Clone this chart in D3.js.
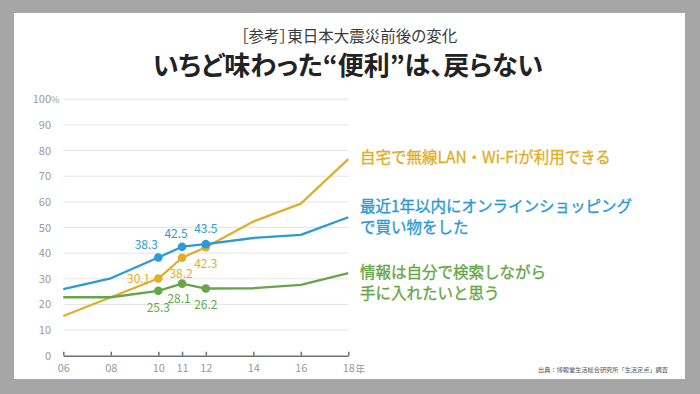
<!DOCTYPE html>
<html>
<head>
<meta charset="utf-8">
<script src="https://cdn.jsdelivr.net/npm/d3@7"></script>
<style>
  html, body { margin: 0; padding: 0; background: #a6a6a6; }
  svg { display: block; font-family: "Noto Sans CJK JP", "Noto Sans", sans-serif; }
  .palt { font-feature-settings: "palt"; }
</style>
</head>
<body>
<svg id="chart"></svg>
<script>
const w = 700;
const h = 394;

const years = [6, 8, 10, 11, 12, 14, 16, 18];
const yearLabels = ['06', '08', '10', '11', '12', '14', '16', '18'];
const wifi = [15.5, 22.8, 30.1, 38.2, 42.3, 52.3, 59.3, 76.7];
const shopping = [26.0, 30.2, 38.3, 42.5, 43.5, 45.9, 47.1, 54.0];
const search = [22.8, 22.8, 25.3, 28.1, 26.2, 26.3, 27.6, 32.2];
const markedYears = [10, 11, 12];
const yTicks = [0, 10, 20, 30, 40, 50, 60, 70, 80, 90, 100];

const series = [
    { name: 'wifi', values: wifi, color: '#dfae2b',
      label: ['自宅で無線LAN・Wi-Fiが利用できる'], labelY: 158,
      // value label offsets for 10, 11, 12
      off: [[-8, 4, 'end'], [-1, 20, 'middle'], [0, 21, 'middle']] },
    { name: 'shopping', values: shopping, color: '#2b9ad6',
      label: ['最近1年以内にオンラインショッピング', 'で買い物をした'], labelY: 207,
      off: [[-12, -8, 'middle'], [-6, -9, 'middle'], [0, -11, 'middle']] },
    { name: 'search', values: search, color: '#67a647',
      label: ['情報は自分で検索しながら', '手に入れたいと思う'], labelY: 273,
      off: [[0, 21, 'middle'], [-3, 19, 'middle'], [0, 20, 'middle']] }
];

const svg = d3.select('#chart')
    .attr('width', w)
    .attr('height', h);

// white card
svg.append('rect')
    .attr('x', 14).attr('y', 13)
    .attr('width', 671).attr('height', 366)
    .attr('fill', '#ffffff');

// titles
svg.append('text')
    .attr('class', 'palt')
    .attr('x', 349).attr('y', 42)
    .attr('text-anchor', 'middle')
    .attr('font-size', 15.5)
    .attr('fill', '#3a3a3a')
    .text('［参考］東日本大震災前後の変化');

svg.append('text')
    .attr('class', 'palt')
    .attr('x', 348).attr('y', 75)
    .attr('text-anchor', 'middle')
    .attr('font-size', 26)
    .attr('font-weight', 'bold')
    .attr('fill', '#222')
    .text('いちど味わった“便利”は、戻らない');

const xScale = d3.scaleLinear()
    .domain([6, 18])
    .range([63.3, 348.3]);
const yScale = d3.scaleLinear()
    .domain([0, 100])
    .range([355.7, 99.3]);

// grid lines
svg.append('g')
    .selectAll('line')
    .data(yTicks.filter(d => d > 0))
    .enter()
    .append('line')
    .attr('x1', xScale(6))
    .attr('x2', xScale(18))
    .attr('y1', d => yScale(d))
    .attr('y2', d => yScale(d))
    .attr('stroke', '#e4e4e4')
    .attr('stroke-width', 1);

// y labels
const yLab = svg.append('g');
yLab.selectAll('text')
    .data(yTicks)
    .enter()
    .append('text')
    .attr('x', 51)
    .attr('y', d => yScale(d) + 4)
    .attr('text-anchor', 'end')
    .attr('font-size', 11)
    .attr('fill', '#9a9a9a')
    .text(d => d);
yLab.append('text')
    .attr('x', 51)
    .attr('y', yScale(100) + 4)
    .attr('font-size', 9)
    .attr('fill', '#9a9a9a')
    .text('%');

// x axis
const xAxis = d3.axisBottom(xScale)
    .tickValues(years)
    .tickFormat((d, i) => yearLabels[i])
    .tickSizeInner(-4)
    .tickSizeOuter(0)
    .tickPadding(9);

const gx = svg.append('g')
    .attr('transform', `translate(0,${yScale(0)})`)
    .call(xAxis);
gx.select('.domain').attr('stroke', '#707070').attr('stroke-width', 1.5);
gx.selectAll('.tick line').attr('stroke', '#707070').attr('stroke-width', 1.5);
gx.selectAll('.tick text')
    .attr('font-size', 11)
    .attr('fill', '#9a9a9a')
    .attr('font-family', '"Noto Sans CJK JP", sans-serif');
svg.append('text')
    .attr('x', xScale(18) + 7)
    .attr('y', yScale(0) + 17)
    .attr('font-size', 10)
    .attr('fill', '#9a9a9a')
    .text('年');

const line = d3.line()
    .x((d, i) => xScale(years[i]))
    .y(d => yScale(d));

series.forEach(s => {
    svg.append('path')
        .datum(s.values)
        .attr('d', line)
        .attr('fill', 'none')
        .attr('stroke', s.color)
        .attr('stroke-width', 2.3)
        .attr('stroke-linejoin', 'round');
});

series.forEach(s => {
    const pts = markedYears.map((yr, k) => {
        const i = years.indexOf(yr);
        return { x: yr, v: s.values[i], off: s.off[k] };
    });
    const g = svg.append('g');
    g.selectAll('circle')
        .data(pts)
        .enter()
        .append('circle')
        .attr('cx', d => xScale(d.x))
        .attr('cy', d => yScale(d.v))
        .attr('r', 4.3)
        .attr('fill', s.color);
    g.selectAll('text')
        .data(pts)
        .enter()
        .append('text')
        .attr('x', d => xScale(d.x) + d.off[0])
        .attr('y', d => yScale(d.v) + d.off[1])
        .attr('text-anchor', d => d.off[2])
        .attr('font-size', 12)
        .attr('fill', s.color)
        .text(d => d.v.toFixed(1));

    // series label on the right
    svg.append('text')
        .attr('x', 360)
        .attr('y', s.labelY + 5)
        .attr('font-size', 15.5)
        .attr('fill', s.color)
        .attr('stroke', s.color)
        .attr('stroke-width', 0.35)
        .selectAll('tspan')
        .data(s.label)
        .enter()
        .append('tspan')
        .attr('x', 360)
        .attr('dy', (d, i) => i === 0 ? 0 : 21)
        .text(d => d);
});

// source
svg.append('text')
    .attr('x', 668)
    .attr('y', 372)
    .attr('text-anchor', 'end')
    .attr('font-size', 6.2)
    .attr('fill', '#555')
    .text('出典：博報堂生活総合研究所「生活定点」調査');
</script>
</body>
</html>
